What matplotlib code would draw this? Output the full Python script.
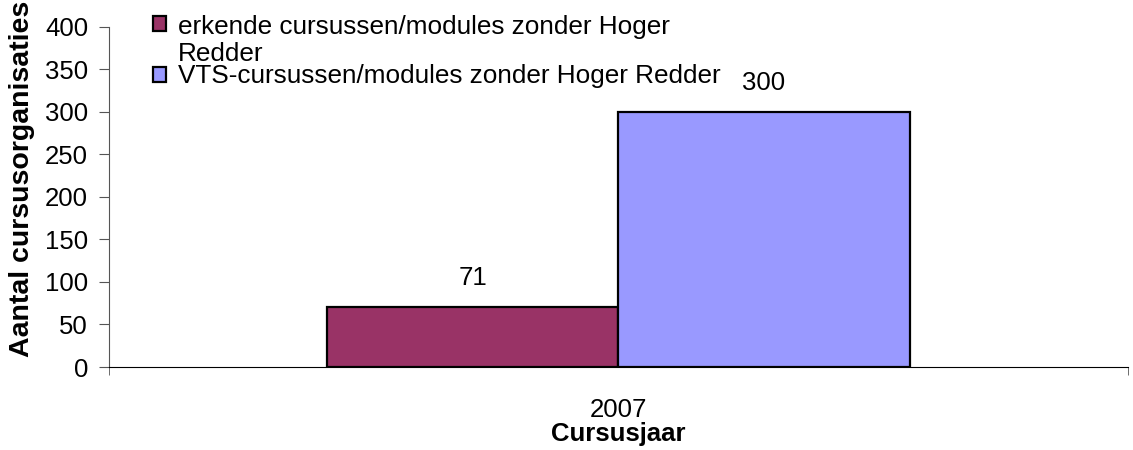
import matplotlib.pyplot as plt
from matplotlib.patches import Rectangle
from matplotlib.legend_handler import HandlerPatch

plt.rcParams['font.family'] = ['Liberation Sans', 'DejaVu Sans']

years = ["2007"]
series_names = ["erkende cursussen/modules zonder Hoger\nRedder",
                "VTS-cursussen/modules zonder Hoger Redder"]
erkend = [71]
vts = [300]
colors = ["#993366", "#9999FF"]

fig = plt.figure(figsize=(11.33, 4.5), dpi=100)
ax = fig.add_axes([0.0962, 0.1844, 0.899, 0.756])

w = 0.286
x = list(range(len(years)))
b1 = ax.bar([i - w / 2 for i in x], erkend, w, color=colors[0], edgecolor="black",
            linewidth=1.6, label=series_names[0])
b2 = ax.bar([i + w / 2 for i in x], vts, w, color=colors[1], edgecolor="black",
            linewidth=1.6, label=series_names[1])
for bars in (b1, b2):
    for r in bars:
        ax.annotate(str(int(r.get_height())), (r.get_x() + r.get_width() / 2, r.get_height()),
                    xytext=(0, 12), textcoords="offset points", ha="center", va="bottom",
                    fontsize=18.5)

ax.set_xlim(-0.5, 0.5)
ax.set_ylim(0, 400)
ax.set_yticks(range(0, 401, 50))
ax.set_xticks(x)
ax.set_xticklabels(years, fontsize=18.5)
ax.set_xticks([-0.5, 0.5], minor=True)
ax.tick_params(axis="x", which="major", length=0, pad=22)
ax.tick_params(axis="x", which="minor", length=6, direction="out", color="#555555")
ax.tick_params(axis="y", labelsize=18.5, length=7, direction="out", color="#555555", pad=8)
ax.spines["top"].set_visible(False)
ax.spines["right"].set_visible(False)
ax.spines["left"].set_color("#555555")
ax.spines["bottom"].set_color("black")

ax.set_xlabel("Cursusjaar", fontsize=18.5, fontweight="bold", labelpad=0)
ax.set_ylabel("Aantal cursusorganisaties", fontsize=20.5, fontweight="bold")
ax.yaxis.set_label_coords(-0.073, 0.553)


def top_square(legend, orig_handle, xdescent, ydescent, width, height, fontsize):
    # square next to the first line of a two-line label
    return Rectangle((-xdescent, -ydescent + 12), width, height)


def first_child(handle, orig):
    handle.update_from(orig.patches[0])


leg = ax.legend(loc="upper left", bbox_to_anchor=(0.126, 0.99), bbox_transform=fig.transFigure,
                frameon=False, fontsize=18.8, handlelength=0.5, handleheight=0.5,
                handletextpad=0.45, labelspacing=-0.05, borderaxespad=0,
                handler_map={b1: HandlerPatch(patch_func=top_square, update_func=first_child)})
for t in leg.get_texts():
    t.set_linespacing(1.15)

fig.savefig("out.png", dpi=100)
